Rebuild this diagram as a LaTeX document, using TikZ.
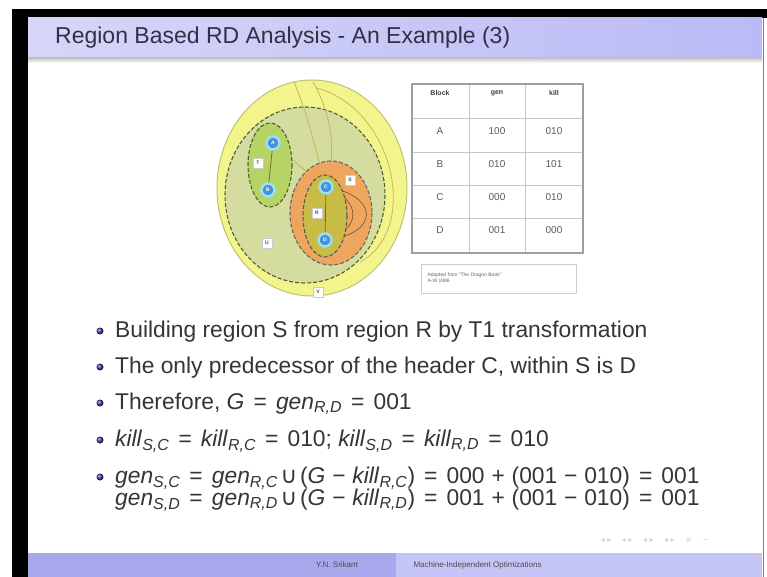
\documentclass[tikz,border=0pt]{standalone}
\usepackage{fontspec}
\setmainfont{Liberation Sans}
\newfontfamily\symfont{DejaVu Sans}
\usetikzlibrary{shapes.geometric,positioning,shadings}
\definecolor{titleleft}{RGB}{214,214,248}
\definecolor{titleright}{RGB}{186,186,246}
\definecolor{titletext}{RGB}{48,48,70}
\definecolor{footleft}{RGB}{168,168,236}
\definecolor{footright}{RGB}{196,196,246}
\definecolor{bodytext}{RGB}{52,52,58}
\definecolor{ballblue}{RGB}{50,50,160}
\definecolor{yellowfill}{RGB}{244,244,140}
\definecolor{yellowedge}{RGB}{190,196,110}
\definecolor{sagefill}{RGB}{212,220,160}
\definecolor{tfill}{RGB}{182,212,102}
\definecolor{orangefill}{RGB}{238,166,94}
\definecolor{rfill}{RGB}{200,188,70}
\definecolor{dashgreen}{RGB}{74,96,48}
\definecolor{nodeblue}{RGB}{74,144,216}
\definecolor{nodering}{RGB}{150,226,240}
\definecolor{tabtext}{RGB}{90,90,90}

\newcommand{\subs}[1]{\textsubscript{\itshape #1}}
\newcommand{\eqop}{{\hspace{0.4em}=\hspace{0.4em}}}
\newcommand{\binop}[1]{{\hspace{0.3em}#1\hspace{0.3em}}}
\newcommand{\union}{{\hspace{0.12em}\symfont ∪\hspace{0.12em}}}

\tikzset{
  blk/.style={circle, fill=nodeblue, draw=nodering, line width=2.5pt, inner sep=0pt,
    minimum size=13pt, font=\fontsize{5}{5}\selectfont\bfseries, text=white},
  tag/.style={draw=gray!40, fill=white, inner sep=0pt, minimum size=10pt,
    font=\fontsize{5}{5}\selectfont\bfseries, text=black!70},
  region/.style={draw=dashgreen, line width=1.1pt, dash pattern=on 4pt off 2pt},
  edgeline/.style={draw=olive!55, line width=0.8pt},
  cell/.style={font=\fontsize{10}{10}\selectfont, text=tabtext},
  head/.style={font=\fontsize{7}{7}\selectfont\bfseries, text=black!75},
  ball/.style={circle, ball color=ballblue, inner sep=0pt, minimum size=7pt},
  item/.style={anchor=base west, font=\fontsize{22.8}{22.8}\selectfont, text=bodytext, inner sep=0pt},
}

\begin{document}
\begin{tikzpicture}[x=1pt,y=-1pt]
\useasboundingbox (0,0) rectangle (767,577);
\fill[white] (0,0) rectangle (767,577);

% slide frame
\fill[black] (12,9) rectangle (767,18);
\fill[black] (12,9) rectangle (28,577);
\draw[gray, line width=1pt] (763,18) -- (763,577);

% title bar
\shade[left color=titleleft, right color=titleright] (28,18) rectangle (762,58);
\shade[top color=gray!45, bottom color=white] (28,58) rectangle (762,63);
\node[anchor=base west, inner sep=0pt, font=\fontsize{23}{23}\selectfont, text=titletext] (title)
  at (55,44) {Region Based RD Analysis - An Example (3)};

% footline
\fill[footleft] (28,553) rectangle (396,577);
\fill[footright] (396,553) rectangle (762,577);
\node[font=\fontsize{8}{8}\selectfont, text=black!70] (author) at (337,565) {Y.N. Srikant};
\node[anchor=west, font=\fontsize{8}{8}\selectfont, text=black!70] (talk) at (410,565)
  {Machine-Independent Optimizations};
\node[font=\symfont\fontsize{8}{8}\selectfont, text=gray!35] (nav) at (655,540)
  {◂ ▸ \quad ◂ ▸ \quad ◂ ▸ \quad ◂ ▸ \quad ≡ \quad ∽};

% block positions
\coordinate (posA) at (273,143);
\coordinate (posB) at (268,190);
\coordinate (posC) at (326,187);
\coordinate (posD) at (325,240);

% regions
\filldraw[fill=yellowfill, draw=yellowedge, line width=1pt] (312,188) ellipse [x radius=95, y radius=108];
\draw[edgeline] (317,88) .. controls (395,110) and (420,230) .. (360,262);
\filldraw[fill=sagefill, region] (305,195) ellipse [x radius=80, y radius=88];
\draw[edgeline] (294,82) .. controls (310,120) and (318,160) .. (posC);
\draw[edgeline] (313,82) .. controls (335,120) and (335,160) .. (posC);
\draw[edgeline] (286,155) -- (posC);
\filldraw[fill=tfill, region] (270,165) ellipse [x radius=22, y radius=42];
\filldraw[fill=orangefill, region, draw=black!60] (331,213) ellipse [x radius=41, y radius=52];
\draw[draw=brown!70!black, line width=0.7pt] (posC) .. controls (380,195) and (380,235) .. (posD);
\draw[draw=brown!70!black, line width=0.7pt] (posC) .. controls (362,200) and (362,230) .. (posD);
\filldraw[fill=rfill, region, draw=black!65] (325,216) ellipse [x radius=22, y radius=41];

% edges between blocks
\draw[draw=olive!80!black, line width=0.8pt] (posA) -- (posB);
\draw[draw=olive!80!black, line width=0.8pt] (posC) -- (posD);

% blocks
\node[blk] (A) at (posA) {A};
\node[blk] (B) at (posB) {B};
\node[blk] (C) at (posC) {C};
\node[blk] (D) at (posD) {D};

% region tags
\node[tag] (tagT) at (258,163) {T};
\node[tag] (tagR) at (317,213) {R};
\node[tag] (tagS) at (350,180) {S};
\node[tag] (tagU) at (267,243) {U};
\node[tag] (tagV) at (318,292) {V};

% gen/kill table
\draw[gray!45, line width=0.6pt] (469,84) -- (469,253) (525,84) -- (525,253);
\foreach \y in {118,152,185,218}
  \draw[gray!45, line width=0.6pt] (412,\y) -- (583,\y);
\draw[gray!75, line width=1.3pt] (412,84) rectangle (583,253);
\node[head] (hblock) at (440,93) {Block};
\node[head] (hgen) at (497,93) {gen};
\node[head] (hkill) at (554,93) {kill};
\foreach \blk/\g/\k [count=\i] in {A/100/010, B/010/101, C/000/010, D/001/000} {
  \node[cell] (blk\i) at (440,98+33*\i) {\blk};
  \node[cell] (gen\i) at (497,98+33*\i) {\g};
  \node[cell] (kill\i) at (554,98+33*\i) {\k};
}
\draw[gray!40, line width=0.6pt] (421,264) rectangle (576,293);
\node[anchor=west, font=\fontsize{5}{6}\selectfont, text=black!60, align=left] (src) at (424,278)
  {Adapted from ``The Dragon Book''\\A-W 1986};

% bullets
\foreach \y in {331,367,403,440,477}
  \node[ball] at (100,\y) {};
\node[item] (l1) at (115,337) {Building region S from region R by T1 transformation};
\node[item] (l2) at (115,373) {The only predecessor of the header C, within S is D};
\node[item] (l3) at (115,409) {Therefore, \textit{G}\eqop\textit{gen}\subs{R,D}\eqop001};
\node[item] (l4) at (115,446) {\textit{kill}\subs{S,C}\eqop\textit{kill}\subs{R,C}\eqop010;
  \textit{kill}\subs{S,D}\eqop\textit{kill}\subs{R,D}\eqop010};
\node[item] (l5) at (115,483) {\textit{gen}\subs{S,C}\eqop\textit{gen}\subs{R,C}\union(\textit{G}\binop{−}\textit{kill}\subs{R,C})\eqop000\binop{+}(001\binop{−}010)\eqop001};
\node[item] (l6) at (115,505) {\textit{gen}\subs{S,D}\eqop\textit{gen}\subs{R,D}\union(\textit{G}\binop{−}\textit{kill}\subs{R,D})\eqop001\binop{+}(001\binop{−}010)\eqop001};
\end{tikzpicture}
\end{document}
